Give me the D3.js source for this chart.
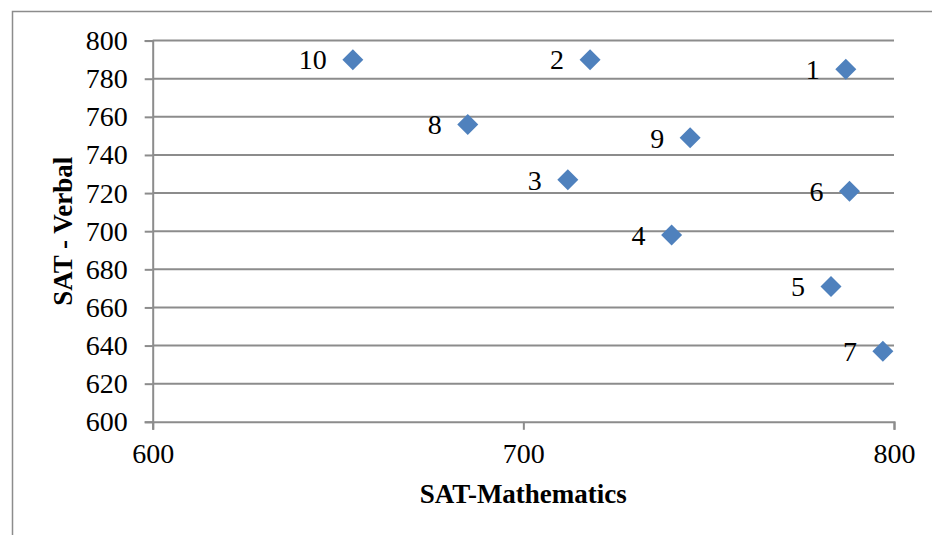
<!DOCTYPE html>
<html>
<head>
<meta charset="utf-8">
<script src="https://cdn.jsdelivr.net/npm/d3@7"></script>
<style>
html,body{margin:0;padding:0;background:#fff;}
svg{display:block;}
</style>
</head>
<body>
<svg id="chart" width="932" height="535"></svg>
<script>
const labels = ["1","2","3","4","5","6","7","8","9","10"];
const mathScores = [787, 718, 712, 740, 783, 788, 797, 685, 745, 654];
const verbalScores = [785, 790, 727, 698, 671, 721, 637, 756, 749, 790];
const xTicks = [600, 700, 800];
const yTicks = [600, 620, 640, 660, 680, 700, 720, 740, 760, 780, 800];
const xTitle = "SAT-Mathematics";
const yTitle = "SAT - Verbal";

const svg = d3.select("#chart");
const font = "'Liberation Serif', 'Times New Roman', serif";
const gray = "#8c8c8c";

// outer chart border (extends beyond right/bottom of view)
svg.append("rect").attr("x", 12.5).attr("y", 11.5).attr("width", 960).attr("height", 560)
  .attr("fill", "none").attr("stroke", gray).attr("stroke-width", 1.5);

const x = d3.scaleLinear().domain([600, 800]).range([152.7, 894]);
const y = d3.scaleLinear().domain([600, 800]).range([421.8, 40.6]);

// gridlines
svg.append("g").selectAll("line").data(yTicks.filter(t => t !== 600)).join("line")
  .attr("x1", x(600)).attr("x2", x(800))
  .attr("y1", d => y(d)).attr("y2", d => y(d))
  .attr("stroke", gray).attr("stroke-width", 2);

// y axis
const yAxis = svg.append("g").attr("transform", `translate(${x(600)},0)`)
  .call(d3.axisLeft(y).tickValues(yTicks).tickSize(8).tickPadding(17).tickFormat(d3.format("d")));
yAxis.select(".domain").attr("stroke", gray).attr("stroke-width", 2);
yAxis.selectAll(".tick line").attr("stroke", gray).attr("stroke-width", 2);
yAxis.selectAll(".tick text").attr("font-family", font).attr("font-size", 28).attr("fill", "#000");

// x axis
const xAxis = svg.append("g").attr("transform", `translate(0,${y(600)})`)
  .call(d3.axisBottom(x).tickValues(xTicks).tickSize(8).tickPadding(13).tickFormat(d3.format("d")));
xAxis.select(".domain").attr("stroke", gray).attr("stroke-width", 2);
xAxis.selectAll(".tick line").attr("stroke", gray).attr("stroke-width", 2);
xAxis.selectAll(".tick text").attr("font-family", font).attr("font-size", 28).attr("fill", "#000");

// titles
svg.append("text").attr("x", (x(600) + x(800)) / 2).attr("y", 503)
  .attr("text-anchor", "middle").attr("font-family", font).attr("font-weight", "bold")
  .attr("font-size", 27).attr("fill", "#000").text(xTitle);
svg.append("text").attr("transform", `translate(72,${(y(600) + y(800)) / 2}) rotate(-90)`)
  .attr("text-anchor", "middle").attr("font-family", font).attr("font-weight", "bold")
  .attr("font-size", 27).attr("fill", "#000").text(yTitle);

// points
const data = labels.map((l, i) => ({label: l, mx: mathScores[i], vy: verbalScores[i]}));
const sym = d3.symbol().type(d3.symbolSquare).size(220);
svg.append("g").selectAll("path").data(data).join("path")
  .attr("d", sym)
  .attr("transform", d => `translate(${x(d.mx)},${y(d.vy)}) rotate(45)`)
  .attr("fill", "#4f81bd");

svg.append("g").selectAll("text").data(data).join("text")
  .attr("x", d => x(d.mx) - 26).attr("y", d => y(d.vy))
  .attr("dy", "0.35em")
  .attr("text-anchor", "end").attr("font-family", font).attr("font-size", 28).attr("fill", "#000")
  .text(d => d.label);
</script>
</body>
</html>
